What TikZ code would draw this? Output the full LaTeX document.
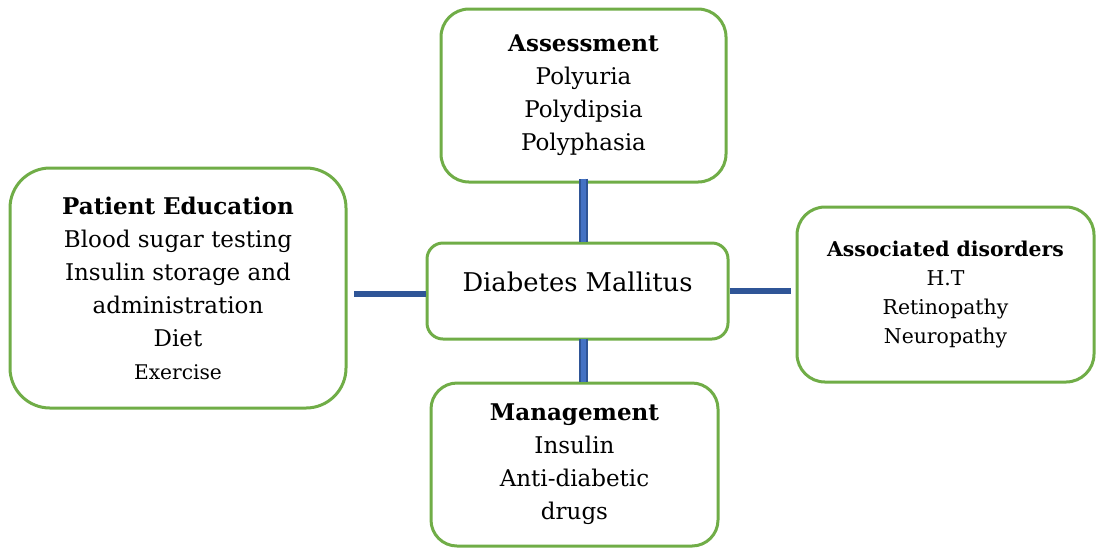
\documentclass[tikz,border=0pt]{standalone}
\usepackage{fontspec}
\setmainfont{DejaVu Serif}
\usepackage{tikz}
\usetikzlibrary{positioning}

\definecolor{boxgreen}{HTML}{70AD47}
\definecolor{linkblue}{HTML}{2F5597}
\definecolor{linkfill}{HTML}{4472C4}

\tikzset{
    topicbox/.style={
        rectangle, align=center,
        draw=boxgreen, line width=1.5pt,
        fill=white, text=black,
        font=\fontsize{11.5}{16.5}\selectfont,
    },
    smalltext/.style={font=\fontsize{10.2}{14.5}\selectfont},
    link/.style={draw=linkblue, line width=3pt},
    vlink/.style={
        draw=linkblue, line width=4.3pt,
        postaction={draw=linkfill, line width=2.3pt},
    },
}

\begin{document}
\begin{tikzpicture}[x=0.5pt, y=-0.5pt]
        \useasboundingbox (0,0) rectangle (1096,548);

        \node (assess) at(583.5,95.5) [
            topicbox,
            minimum width=142.5pt, minimum height=86.5pt,
            rounded corners=14pt,
        ] {\textbf{Assessment}\\Polyuria\\Polydipsia\\Polyphasia};

        \node (edu) at(178,288) [
            topicbox,
            minimum width=168pt, minimum height=120pt,
            rounded corners=20pt,
        ] {\textbf{Patient Education}\\Blood sugar testing\\Insulin storage and\\administration\\Diet\\{\fontsize{10.1}{14.5}\selectfont Exercise}};

        \node (dm) at(577.5,291) [
            topicbox,
            minimum width=150.5pt, minimum height=48pt,
            rounded corners=8pt,
        ] {};
        \node (dmlabel) at(577.5,282) [
            font=\fontsize{12.9}{15}\selectfont,
            text=black,
        ] {Diabetes Mallitus};

        \node (assoc) at(945.5,294.5) [
            topicbox, smalltext,
            minimum width=148.5pt, minimum height=87.5pt,
            rounded corners=14pt,
        ] {\textbf{Associated disorders}\\H.T\\Retinopathy\\Neuropathy};

        \node (manage) at(574.5,464.5) [
            topicbox,
            minimum width=143.5pt, minimum height=81.5pt,
            rounded corners=13pt,
        ] {\textbf{Management}\\Insulin\\Anti-diabetic\\drugs};

        \draw [link, shorten >=3pt] ([yshift=-1.5pt]dm.west) -- ([yshift=-1.5pt]dm.west -| edu.east);
        \draw [link, shorten >=2.5pt] (dm.east) -- (dm.east -| assoc.west);
        \draw [vlink, shorten <=-2.5pt] (assess.south) -- (assess.south |- dm.north);
        \draw [vlink, shorten <=-1pt] (dm.south -| assess.south) -- (manage.north -| assess.south);
    \end{tikzpicture}
\end{document}
